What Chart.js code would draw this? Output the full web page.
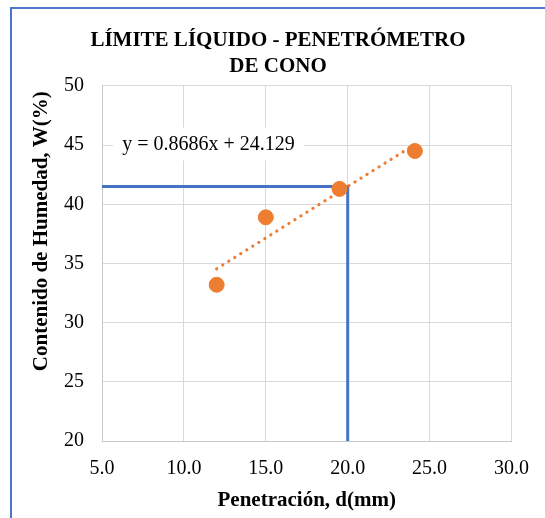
<!DOCTYPE html>
<html>
<head>
<meta charset="utf-8">
<script src="https://cdn.jsdelivr.net/npm/chart.js@4"></script>
<style>
    html, body { margin: 0; padding: 0; background: #fff; overflow: hidden; }
    #frame { position: absolute; left: 10px; top: 7px; width: 600px; height: 600px; border: 2px solid #4a78c6; }
    #wrap { position: absolute; left: 0; top: 0; width: 545px; height: 518px; }
</style>
</head>
<body>
<div id="frame"></div>
<div id="wrap"><canvas id="llChart"></canvas></div>
<script>
// Data
const penetration = [12.0, 15.0, 19.5, 24.1];
const moisture = [33.2, 38.9, 41.3, 44.5];
const trendX = [12.0, 24.1];
const trendY = [34.55, 45.06];
const limitX = [5, 20, 20];
const limitY = [41.5, 41.5, 20];
const equationText = "y = 0.8686x + 24.129";
const equationPos = [11.5, 45.05];
const xTicks = [5, 10, 15, 20, 25, 30];
const yTicks = [20, 25, 30, 35, 40, 45, 50];

const serif = "'Liberation Serif', 'Times New Roman', serif";

const toPoints = (xs, ys) => xs.map((x, i) => ({ x, y: ys[i] }));

// Text label for the trend line equation
const equationLabel = {
    id: "equationLabel",
    beforeDatasetsDraw(chart) {
        const { ctx, scales } = chart;
        const x = scales.x.getPixelForValue(equationPos[0]);
        const y = scales.y.getPixelForValue(equationPos[1]);
        ctx.save();
        ctx.font = "20px " + serif;
        const w = ctx.measureText(equationText).width;
        ctx.fillStyle = "#fff";
        ctx.fillRect(x - w / 2 - 9, y - 17, w + 18, 33);
        ctx.fillStyle = "#000";
        ctx.textAlign = "center";
        ctx.textBaseline = "middle";
        ctx.fillText(equationText, x, y);
        ctx.restore();
    },
};

const ctx = document.getElementById("llChart").getContext("2d");

new Chart(ctx, {
    type: "scatter",
    data: {
        datasets: [
            {
                type: "line",
                data: toPoints(trendX, trendY),
                borderColor: "#ED7D31",
                borderWidth: 3.2,
                borderDash: [0.1, 7],
                borderCapStyle: "round",
                pointRadius: 0,
                fill: false,
            },
            {
                data: toPoints(penetration, moisture),
                backgroundColor: "#ED7D31",
                borderColor: "#ED7D31",
                pointRadius: 7.5,
                pointHoverRadius: 7.5,
            },
            {
                type: "line",
                data: toPoints(limitX, limitY),
                borderColor: "#4472C4",
                borderWidth: 3,
                pointRadius: 0,
                fill: false,
            },
        ],
    },
    options: {
        responsive: true,
        maintainAspectRatio: false,
        animation: false,
        layout: { padding: { left: 43, right: 32, top: 0, bottom: 0 } },
        plugins: {
            legend: { display: false },
            tooltip: { enabled: false },
            title: {
                display: true,
                text: ["LÍMITE LÍQUIDO - PENETRÓMETRO", "DE CONO"],
                color: "#000",
                font: { family: serif, size: 21, weight: "bold", lineHeight: 1.26 },
                padding: { top: 27, bottom: 6 },
            },
        },
        scales: {
            x: {
                type: "linear",
                min: 5,
                max: 30,
                afterBuildTicks: (scale) => { scale.ticks = xTicks.map((v) => ({ value: v })); },
                afterFit: (scale) => { scale.height = 77; },
                ticks: {
                    color: "#000",
                    font: { family: serif, size: 20 },
                    padding: 16,
                    callback: (v) => Number(v).toFixed(1),
                },
                grid: { color: "#d9d9d9", drawTicks: false },
                border: { color: "#c6c6c6" },
                title: {
                    display: true,
                    text: "Penetración, d(mm)",
                    color: "#000",
                    font: { family: serif, size: 21, weight: "bold" },
                    padding: { top: 0, bottom: 5 },
                },
            },
            y: {
                type: "linear",
                min: 20,
                max: 50,
                afterBuildTicks: (scale) => { scale.ticks = yTicks.map((v) => ({ value: v })); },
                afterFit: (scale) => { scale.width = 59; },
                ticks: {
                    color: "#000",
                    font: { family: serif, size: 20 },
                    padding: 18,
                },
                grid: { color: "#d9d9d9", drawTicks: false },
                border: { color: "#c6c6c6" },
                title: {
                    display: true,
                    text: "Contenido de Humedad, W(%) ",
                    align: "end",
                    color: "#000",
                    font: { family: serif, size: 21, weight: "bold" },
                    padding: { top: -14, bottom: 0 },
                },
            },
        },
    },
    plugins: [equationLabel],
});
</script>
</body>
</html>
